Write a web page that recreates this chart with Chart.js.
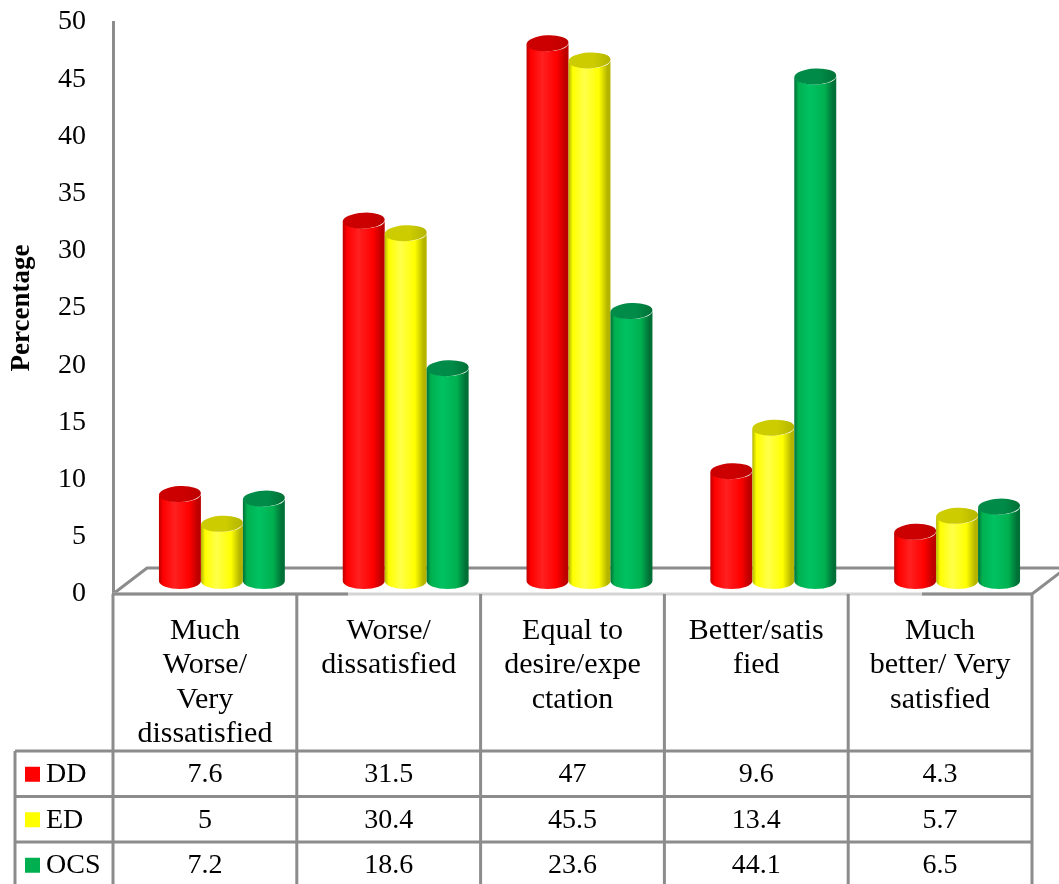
<!DOCTYPE html>
<html>
<head>
<meta charset="utf-8">
<title>Percentage by satisfaction level</title>
<script src="https://cdn.jsdelivr.net/npm/chart.js@4.4.1/dist/chart.umd.min.js"></script>
<style>
  html, body { margin: 0; padding: 0; background: #ffffff; }
  #wrap { width: 1059px; height: 884px; }
</style>
</head>
<body>
<div id="wrap"><canvas id="chart" width="1059" height="884"></canvas></div>
<script>
// Category labels, already broken into the lines shown in the table header
const categories = [
  ["Much", "Worse/", "Very", "dissatisfied"],
  ["Worse/", "dissatisfied"],
  ["Equal to", "desire/expe", "ctation"],
  ["Better/satis", "fied"],
  ["Much", "better/ Very", "satisfied"]
];
const seriesNames = ["DD", "ED", "OCS"];
const ddValues  = [7.6, 31.5, 47, 9.6, 4.3];
const edValues  = [5, 30.4, 45.5, 13.4, 5.7];
const ocsValues = [7.2, 18.6, 23.6, 44.1, 6.5];
const yMin = 0, yMax = 50, yStep = 5;

// Cylinder shading per series: body colour, highlight, edge shade, cap colour
const palette = [
  { base: "#ff0000", light: "#ff2020", dark: "#bc0000", cap: "#cc0000" },
  { base: "#ffff00", light: "#ffff4a", dark: "#b4b400", cap: "#cccc00" },
  { base: "#00b050", light: "#00c262", dark: "#007036", cap: "#008c48" }
];

const FONT = "'Liberation Serif', 'Times New Roman', serif";
const LINE = "#8c8c8c";
const DEPTH_X = 34, DEPTH_Y = 26;   // 3-D floor depth

function drawCylinder(ctx, cx, w, yTop, yBase, col) {
  const r = w / 2, ry = w * 0.19;
  const x0 = cx - r, x1 = cx + r;
  const g = ctx.createLinearGradient(x0, 0, x1, 0);
  g.addColorStop(0, col.dark);
  g.addColorStop(0.1, col.base);
  g.addColorStop(0.38, col.light);
  g.addColorStop(0.72, col.base);
  g.addColorStop(0.93, col.dark);
  g.addColorStop(1, col.dark);
  ctx.save();
  ctx.beginPath();
  ctx.moveTo(x0, yTop);
  ctx.lineTo(x0, yBase);
  ctx.ellipse(cx, yBase, r, ry, 0, Math.PI, 0, true);
  ctx.lineTo(x1, yTop);
  ctx.ellipse(cx, yTop, r, ry, 0, 0, Math.PI, false);
  ctx.closePath();
  ctx.fillStyle = g;
  ctx.fill();
  // cap
  const cg = ctx.createLinearGradient(x0, 0, x1, 0);
  cg.addColorStop(0, col.cap);
  cg.addColorStop(0.6, col.cap);
  cg.addColorStop(1, col.dark);
  ctx.beginPath();
  ctx.ellipse(cx, yTop, r, ry, -0.05, 0, Math.PI * 2);
  ctx.fillStyle = cg;
  ctx.fill();
  ctx.restore();
}

const cylinderPlugin = {
  id: "cylinders",
  beforeDatasetsDraw(chart) {
    // floor of the 3-D plot
    const { ctx, chartArea: a, scales: { y } } = chart;
    const y0 = y.getPixelForValue(0);
    ctx.save();
    ctx.strokeStyle = LINE;
    ctx.lineWidth = 3;
    ctx.beginPath();
    ctx.moveTo(a.left, y0);
    ctx.lineTo(a.left + DEPTH_X, y0 - DEPTH_Y);
    ctx.lineTo(a.right + DEPTH_X, y0 - DEPTH_Y);
    ctx.moveTo(a.right, y0);
    ctx.lineTo(a.right + DEPTH_X, y0 - DEPTH_Y);
    ctx.stroke();
    ctx.restore();
  },
  afterDatasetsDraw(chart) {
    const { ctx, scales: { y } } = chart;
    const n = chart.data.labels.length;
    for (let j = 0; j < n; j++) {
      chart.data.datasets.forEach((ds, i) => {
        const el = chart.getDatasetMeta(i).data[j];
        const cx = el.x + DEPTH_X / 2;
        const top = y.getPixelForValue(ds.data[j]) - DEPTH_Y / 2;
        const base = y.getPixelForValue(0) - DEPTH_Y / 2;
        drawCylinder(ctx, cx, el.width, top, base, palette[i]);
      });
    }
  },
  afterDraw(chart) {
    // data table under the plot
    const { ctx, chartArea: a, scales: { x, y } } = chart;
    const n = chart.data.labels.length;
    const colW = (a.right - a.left) / n;
    const top = y.getPixelForValue(0);
    const headH = 157, rowH = 45.5;
    const rowsTop = top + headH;
    const legendLeft = 15;
    const bottom = rowsTop + rowH * 3;
    ctx.save();
    ctx.lineWidth = 3;
    // front edge of floor / top of table
    ctx.strokeStyle = "#d4d4d4";
    ctx.beginPath(); ctx.moveTo(a.left, top); ctx.lineTo(a.right, top); ctx.stroke();
    ctx.strokeStyle = LINE;
    ctx.beginPath();
    ctx.moveTo(a.left, top); ctx.lineTo(a.left + 235, top);
    ctx.moveTo(a.right - 110, top); ctx.lineTo(a.right, top);
    ctx.stroke();
    ctx.beginPath();
    for (let i = 0; i <= n; i++) {
      const cx = (i < n ? x.getPixelForValue(i) - colW / 2 : x.getPixelForValue(n - 1) + colW / 2);
      ctx.moveTo(cx, top); ctx.lineTo(cx, bottom);
    }
    ctx.moveTo(legendLeft, rowsTop); ctx.lineTo(legendLeft, bottom);
    for (let r = 0; r <= 3; r++) {
      ctx.moveTo(legendLeft, rowsTop + r * rowH); ctx.lineTo(a.right, rowsTop + r * rowH);
    }
    ctx.stroke();

    ctx.fillStyle = "#000";
    ctx.font = "30px " + FONT;
    ctx.textAlign = "center";
    ctx.textBaseline = "middle";
    categories.forEach((lines, i) => {
      const cx = x.getPixelForValue(i);
      lines.forEach((t, k) => ctx.fillText(t, cx, top + 37 + k * 34.5));
    });
    ctx.font = "28px " + FONT;
    chart.data.datasets.forEach((ds, r) => {
      const cy = rowsTop + r * rowH + rowH / 2 + 1;
      ds.data.forEach((v, i) => {
        ctx.textAlign = "center";
        ctx.fillText(String(v), x.getPixelForValue(i), cy);
      });
      ctx.fillStyle = palette[r].base;
      ctx.fillRect(legendLeft + 10, cy - 8, 15, 15);
      ctx.fillStyle = "#000";
      ctx.textAlign = "left";
      ctx.fillText(ds.label, legendLeft + 31, cy);
    });
    ctx.restore();
  }
};

const seriesValues = [ddValues, edValues, ocsValues];

new Chart(document.getElementById("chart"), {
  type: "bar",
  data: {
    labels: categories.map(c => c.join(" ")),
    datasets: seriesNames.map((name, i) => ({
      label: name,
      data: seriesValues[i],
      backgroundColor: "rgba(0,0,0,0)",
      borderWidth: 0,
      barPercentage: 1,
      categoryPercentage: 0.685
    }))
  },
  options: {
    responsive: false,
    animation: false,
    devicePixelRatio: 1,
    layout: { padding: { top: 22, right: 27, bottom: 290, left: 0 } },
    plugins: { legend: { display: false }, tooltip: { enabled: false } },
    scales: {
      x: { display: false, offset: true },
      y: {
        min: yMin, max: yMax,
        ticks: { stepSize: yStep, color: "#000", padding: 27, font: { family: FONT, size: 28 } },
        grid: { display: false, drawTicks: false },
        border: { display: true, color: LINE, width: 3 },
        title: { display: true, text: "Percentage", color: "#000", padding: { top: 6, bottom: 0 },
                 font: { family: FONT, size: 27, weight: "bold" } },
        afterFit(scale) {
          scale.width = 113;
          scale.paddingTop = 0;
          scale.paddingBottom = 0;
        }
      }
    }
  },
  plugins: [cylinderPlugin]
});
</script>
</body>
</html>
